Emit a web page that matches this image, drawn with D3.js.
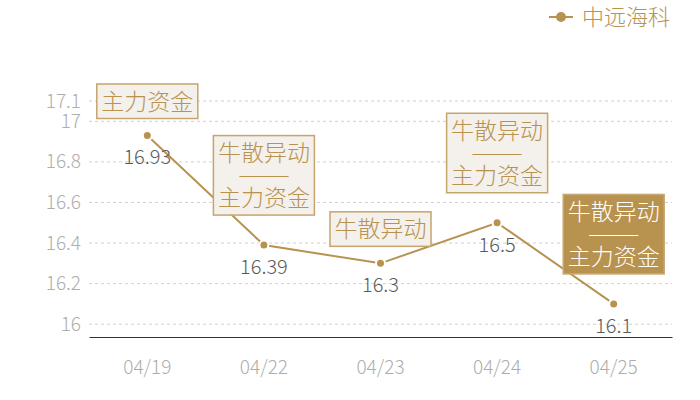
<!DOCTYPE html>
<html>
<head>
<meta charset="utf-8">
<script src="https://cdn.jsdelivr.net/npm/d3@7"></script>
<style>
  body { margin: 0; background: #fff; }
  svg { display: block; font-family: "Noto Sans CJK SC", "Noto Sans", sans-serif; font-weight: 300; }
</style>
</head>
<body>
<script>
// datos
const dates = ["04/19", "04/22", "04/23", "04/24", "04/25"];
const prices = [16.93, 16.39, 16.3, 16.5, 16.1];
const notes = [["主力资金"], ["牛散异动", "——", "主力资金"], ["牛散异动"], ["牛散异动", "——", "主力资金"], ["牛散异动", "——", "主力资金"]];
const highlight = [false, false, false, false, true];
const yTicks = [16, 16.2, 16.4, 16.6, 16.8, 17, 17.1];
const seriesName = "中远海科";

const width = 700, height = 400;
const margin = { top: 101, right: 28, bottom: 63, left: 89 };
const gold = "#b8924f";

const svg = d3.select("body").append("svg")
    .attr("width", width)
    .attr("height", height);

const x = d3.scaleBand()
    .domain(dates)
    .range([margin.left, width - margin.right]);

const y = d3.scaleLinear()
    .domain([15.937, 17.1])
    .range([height - margin.bottom, margin.top]);

// rejilla
svg.append("g").selectAll("line")
    .data(yTicks)
    .enter().append("line")
    .attr("x1", margin.left)
    .attr("x2", width - margin.right)
    .attr("y1", d => y(d))
    .attr("y2", d => y(d))
    .attr("stroke", "#d0d0d0")
    .attr("stroke-dasharray", "3,3");

// eje Y
const yAxis = svg.append("g")
    .attr("transform", "translate(" + margin.left + ",0)")
    .call(d3.axisLeft(y).tickValues(yTicks).tickSize(0).tickPadding(8).tickFormat(d => d));
yAxis.select(".domain").remove();
yAxis.selectAll("text").attr("fill", "#aeaeae").attr("font-size", "19px")
    .attr("font-family", "Noto Sans CJK SC");

// eje X
const xAxis = svg.append("g")
    .attr("transform", "translate(0," + (height - margin.bottom) + ")")
    .call(d3.axisBottom(x).tickSize(0).tickPadding(24));
xAxis.select(".domain").attr("stroke", "#333").attr("stroke-width", 1.2);
xAxis.selectAll("text").attr("fill", "#aeaeae").attr("font-size", "19px")
    .attr("font-family", "Noto Sans CJK SC");

const cx = d => x(d) + x.bandwidth() / 2;

// línea
svg.append("path")
    .datum(prices)
    .attr("fill", "none")
    .attr("stroke", gold)
    .attr("stroke-width", 2)
    .attr("d", d3.line().x((d, i) => cx(dates[i])).y(d => y(d)));

svg.append("g").selectAll("circle")
    .data(prices)
    .enter().append("circle")
    .attr("cx", (d, i) => cx(dates[i]))
    .attr("cy", d => y(d))
    .attr("r", 4.5)
    .attr("fill", gold)
    .attr("stroke", "#fff")
    .attr("stroke-width", 2);

// valores
svg.append("g").selectAll("text")
    .data(prices)
    .enter().append("text")
    .attr("x", (d, i) => cx(dates[i]))
    .attr("y", d => y(d) + 29)
    .attr("text-anchor", "middle")
    .attr("fill", "#5a5a5a")
    .attr("font-size", "20px")
    .text(d => d);

// anotaciones
const lineH = 22.5, pad = 6, boxW = 101;
prices.forEach((p, i) => {
    const lines = notes[i];
    const h = lines.length * lineH + pad * 2;
    const gap = lines.length === 1 ? 17 : 30;
    const bottom = y(p) - gap;
    const left = cx(dates[i]) - boxW / 2;
    const g = svg.append("g");
    g.append("rect")
        .attr("x", left)
        .attr("y", bottom - h)
        .attr("width", boxW)
        .attr("height", h)
        .attr("fill", highlight[i] ? gold : "#f4f0eb")
        .attr("stroke", highlight[i] ? "#c9a873" : "#c7a46e")
        .attr("stroke-width", 1.5);
    g.selectAll("text")
        .data(lines)
        .enter().append("text")
        .attr("x", cx(dates[i]))
        .attr("y", (d, k) => bottom - h + pad + lineH * (k + 0.5))
        .attr("dy", "0.36em")
        .attr("text-anchor", "middle")
        .attr("font-size", d => d === "——" ? "17px" : "23px")
        .attr("font-weight", d => d === "——" ? 400 : 300)
        .attr("fill", highlight[i] ? "#fff" : gold)
        .attr("textLength", d => d === "——" ? 52 : null)
        .attr("lengthAdjust", "spacingAndGlyphs")
        .text(d => d);
});

// leyenda
const legend = svg.append("g").attr("transform", "translate(549,17)");
legend.append("line").attr("x1", 0).attr("x2", 24).attr("stroke", gold).attr("stroke-width", 2);
legend.append("circle").attr("cx", 12).attr("r", 5).attr("fill", gold);
legend.append("text")
    .attr("x", 33)
    .attr("dy", "0.36em")
    .attr("font-size", "22px")
    .attr("fill", gold)
    .text(seriesName);
</script>
</body>
</html>
